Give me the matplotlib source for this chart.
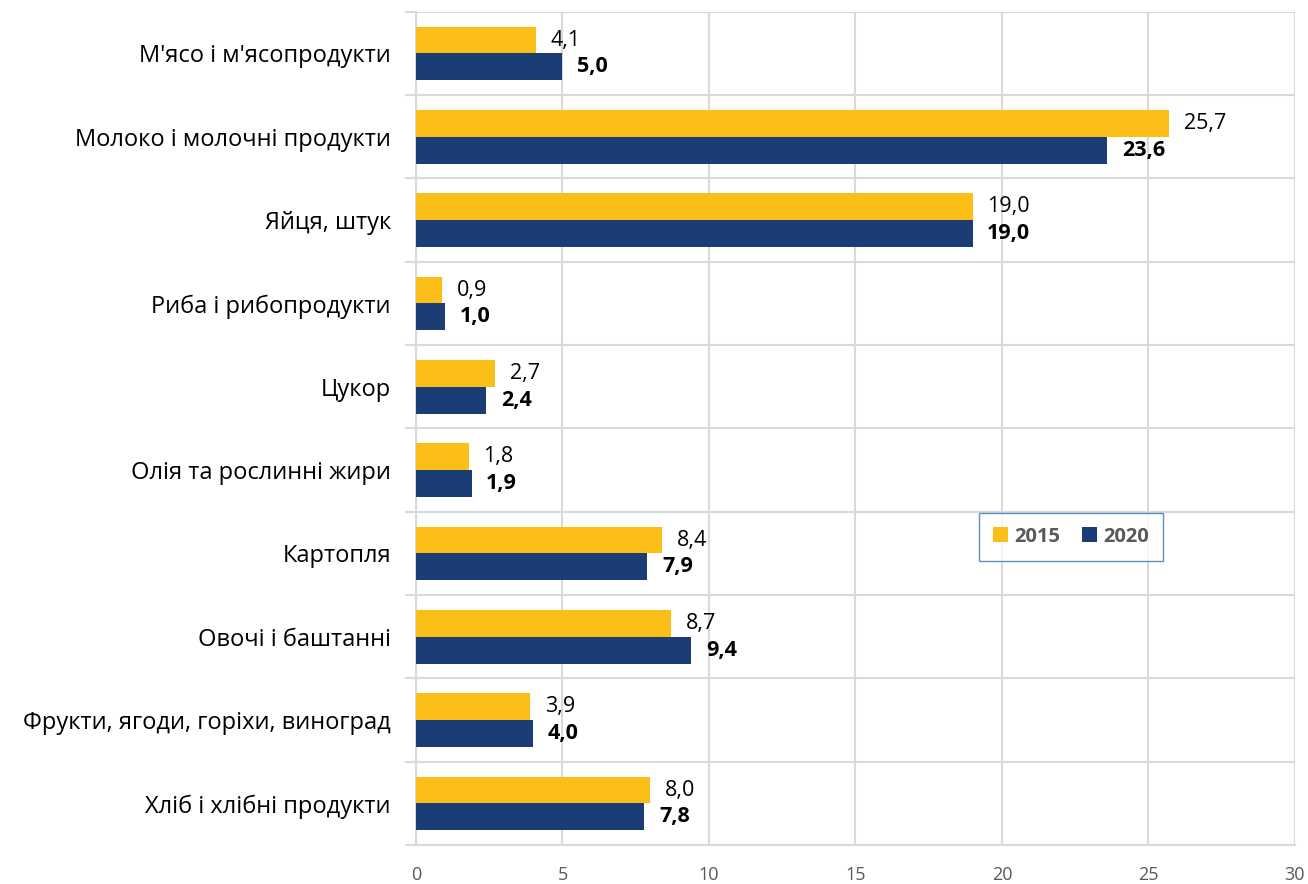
import matplotlib.pyplot as plt
import numpy as np

categories = ["М'ясо і м'ясопродукти", "Молоко і молочні продукти", "Яйця, штук",
              "Риба і рибопродукти", "Цукор", "Олія та рослинні жири", "Картопля",
              "Овочі і баштанні", "Фрукти, ягоди, горіхи, виноград", "Хліб і хлібні продукти"]
values_2015 = [4.1, 25.7, 19.0, 0.9, 2.7, 1.8, 8.4, 8.7, 3.9, 8.0]
values_2020 = [5.0, 23.6, 19.0, 1.0, 2.4, 1.9, 7.9, 9.4, 4.0, 7.8]
series_names = ["2015", "2020"]

c2015 = "#FBBF17"
c2020 = "#1B3D76"
grid_c = "#D9D9D9"

plt.rcParams['font.family'] = ['Open Sans', 'DejaVu Sans']

fig = plt.figure(figsize=(13.08, 8.84), dpi=100)
ax = fig.add_axes([0.318, 0.044, 0.672, 0.9427])

y = np.arange(len(categories))
h = 0.322
ax.barh(y - h / 2, values_2015, height=h, color=c2015, label=series_names[0], zorder=3)
ax.barh(y + h / 2, values_2020, height=h, color=c2020, label=series_names[1], zorder=3)

fmt = lambda v: f"{v:.1f}".replace(".", ",")
for yy, v in zip(y, values_2015):
    ax.text(v + 0.5, yy - h / 2, fmt(v), va="center", ha="left", fontsize=15.5, color="black")
for yy, v in zip(y, values_2020):
    ax.text(v + 0.5, yy + h / 2, fmt(v), va="center", ha="left", fontsize=15.5,
            color="black", fontweight="bold")

ax.set_xlim(0, 30)
ax.set_ylim(len(categories) - 0.5, -0.5)
ax.set_xticks(range(0, 31, 5))
ax.set_yticks(y)
ax.set_yticklabels(categories, fontsize=17)
ax.set_yticks(np.arange(len(categories) + 1) - 0.5, minor=True)

ax.tick_params(axis="x", length=0, pad=15, labelsize=13, labelcolor="#595959")
ax.tick_params(axis="y", which="major", length=0, pad=18)
ax.tick_params(axis="y", which="minor", length=8, color=grid_c, width=1.5)

ax.grid(axis="x", color=grid_c, lw=1.5, zorder=0)
ax.grid(axis="y", which="minor", color=grid_c, lw=1.5, zorder=0)
ax.set_axisbelow(True)

for s in ["top", "right"]:
    ax.spines[s].set_visible(False)
ax.spines["left"].set_color(grid_c)
ax.spines["left"].set_linewidth(1.5)
ax.spines["bottom"].set_color(grid_c)
ax.spines["bottom"].set_linewidth(1.5)

leg = ax.legend(loc="center", bbox_to_anchor=(0.745, 0.37), ncol=2, frameon=True,
                fancybox=False, handlelength=0.75, handleheight=0.75, columnspacing=1.1,
                handletextpad=0.3, borderpad=0.7, prop={"size": 14.5, "weight": "bold"})
leg.get_frame().set_edgecolor("#2E75B6")
leg.get_frame().set_linewidth(1.0)
for t in leg.get_texts():
    t.set_color("#595959")

fig.savefig("out.png", dpi=100)
